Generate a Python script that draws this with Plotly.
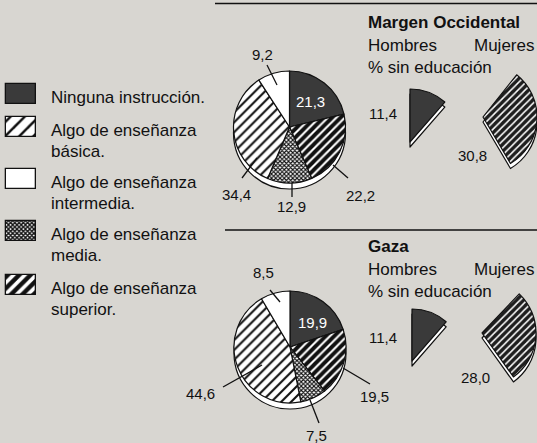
import plotly.graph_objects as go

# ---------------- data ----------------
categories = [
    "Ninguna instrucción.",
    "Algo de enseñanza<br>básica.",
    "Algo de enseñanza<br>intermedia.",
    "Algo de enseñanza<br>media.",
    "Algo de enseñanza<br>superior.",
]
regions = ["Margen Occidental", "Gaza"]
wb_values = [21.3, 34.4, 9.2, 12.9, 22.2]      # in legend order
gaza_values = [19.9, 44.6, 8.5, 7.5, 19.5]     # in legend order
slice_order = [0, 4, 3, 1, 2]                  # clockwise from 12 o'clock
sexes = ["Hombres", "Mujeres"]
wb_sin_educacion = [11.4, 30.8]
gaza_sin_educacion = [11.4, 28.0]
subtitle = "% sin educación"

# ---------------- style ----------------
W, H = 537, 443
BG = "#d8d6d1"
INK = "#111111"
DARK = "#3a3a3a"
FONT = "Liberation Sans, Arial, Helvetica, sans-serif"

cat_style = [
    dict(color=DARK, shape="", fg=DARK, size=8, sol=0.3),
    dict(color="white", shape="/", fg=INK, size=7, sol=0.3),
    dict(color="white", shape="", fg="white", size=8, sol=0.3),
    dict(color="white", shape="x", fg=INK, size=3, sol=0.6),
    dict(color="white", shape="/", fg=INK, size=6, sol=0.65),
]
legend_pattern_size = [8, 10, 8, 3, 8]
legend_pattern_sol = [0.3, 0.25, 0.3, 0.7, 0.55]


def fmt(v):
    return f"{v:.1f}".replace(".", ",")


def dom(cx, cy, r):
    return dict(x=[max(0, (cx - r) / W), min(1, (cx + r) / W)],
                y=[max(0, 1 - (cy + r) / H), min(1, 1 - (cy - r) / H)])


fig = go.Figure()

# ---- main pies (with extruded side) ----
main_pies = [
    dict(values=wb_values, cx=289.5, cy=127, r=56),
    dict(values=gaza_values, cx=290, cy=347, r=56),
]
for p in main_pies:
    fig.add_trace(go.Pie(values=[1], sort=False, textinfo="none", hoverinfo="skip",
                         showlegend=False, domain=dom(p["cx"], p["cy"] + 6, p["r"]),
                         marker=dict(colors=["white"], line=dict(color=INK, width=1.2))))
    order = slice_order
    fig.add_trace(go.Pie(
        labels=[categories[i] for i in order],
        values=[p["values"][i] for i in order],
        sort=False, direction="clockwise", rotation=0,
        textinfo="none", showlegend=False,
        domain=dom(p["cx"], p["cy"], p["r"]),
        marker=dict(
            colors=[cat_style[i]["color"] for i in order],
            line=dict(color=INK, width=1.2),
            pattern=dict(
                shape=[cat_style[i]["shape"] for i in order],
                fgcolor=[cat_style[i]["fg"] for i in order],
                bgcolor=[cat_style[i]["color"] for i in order],
                size=[cat_style[i]["size"] for i in order],
                solidity=[cat_style[i]["sol"] for i in order],
                fillmode="replace",
            ),
        ),
    ))

# ---- small wedges: % sin educación ----
CLEAR = "rgba(0,0,0,0)"
wedges = [
    dict(v=wb_sin_educacion[0], cx=410, cy=142, r=53, men=True),
    dict(v=wb_sin_educacion[1], cx=483, cy=117, r=54, men=False),
    dict(v=gaza_sin_educacion[0], cx=412, cy=361, r=52, men=True),
    dict(v=gaza_sin_educacion[1], cx=482, cy=333, r=54, men=False),
]
for w in wedges:
    rot = 0 if w["men"] else 94 - w["v"] * 3.6 / 2
    vals = [w["v"], 100 - w["v"]]
    fig.add_trace(go.Pie(values=vals, sort=False, direction="clockwise", rotation=rot,
                         textinfo="none", hoverinfo="skip", showlegend=False,
                         domain=dom(w["cx"], w["cy"] + 5, w["r"]),
                         marker=dict(colors=["white", CLEAR],
                                     line=dict(color=[INK, CLEAR], width=[1.2, 0]))))
    if w["men"]:
        pat = dict(shape=["", ""], fillmode="replace")
        fill = DARK
    else:
        pat = dict(shape=["/", ""], fgcolor=["white", CLEAR], bgcolor=["#1e1e1e", CLEAR],
                   size=[5, 5], solidity=[0.3, 0.3], fillmode="replace")
        fill = "#1e1e1e"
    fig.add_trace(go.Pie(values=vals, sort=False, direction="clockwise", rotation=rot,
                         textinfo="none", showlegend=False,
                         domain=dom(w["cx"], w["cy"], w["r"]),
                         marker=dict(colors=[fill, CLEAR],
                                     line=dict(color=[INK, CLEAR], width=[1.2, 0]),
                                     pattern=pat)))

# ---- legend swatches (one bar per category on a pixel-scaled hidden axis) ----
legend_y = [94, 127, 179, 231, 285]
for i, (cat, yc) in enumerate(zip(categories, legend_y)):
    s = cat_style[i]
    fig.add_trace(go.Bar(
        orientation="h", y=[yc], x=[30], base=6, width=20, name=cat,
        hoverinfo="skip", showlegend=False,
        marker=dict(
            color=s["color"],
            line=dict(color=INK, width=1.3),
            pattern=dict(shape=s["shape"], fgcolor=s["fg"], bgcolor=s["color"],
                         size=legend_pattern_size[i], solidity=legend_pattern_sol[i],
                         fillmode="replace"),
        ),
    ))

annotations = []
shapes = []


def ann(text, x, y, size=17, color=INK, xanchor="left"):
    annotations.append(dict(text=text, x=x, y=y, xref="x", yref="y", showarrow=False,
                            xanchor=xanchor, yanchor="middle",
                            font=dict(family=FONT, size=size, color=color)))


def line(x0, y0, x1, y1, width=1.3):
    shapes.append(dict(type="line", xref="x", yref="y", x0=x0, y0=y0, x1=x1, y1=y1,
                       line=dict(color=INK, width=width), layer="above"))


# legend labels
for cat, yc in zip(categories, legend_y):
    for k, part in enumerate(cat.split("<br>")):
        ann(part, 49, yc + 3 + k * 21)

# headers
header_y = [22, 246]
for reg, hy in zip(regions, header_y):
    ann(f"<b>{reg}</b>", 366, hy)
    ann(sexes[0], 366, hy + 23)
    ann(sexes[1], 472, hy + 23)
    ann(subtitle, 366, hy + 45)

# horizontal rules
line(215, 3.5, 537, 3.5, 1.6)
line(225, 230, 537, 230, 1.6)

# pie value labels: (text offset, leader from, leader to) relative to pie centre
label_pos = [
    # West Bank, legend order
    [((20.5, -26), None), ((-53.5, 67), ((-32.5, 31), (-47.5, 51))),
     ((-27.5, -73), ((-12.5, -42), (-22.5, -62))), ((1.5, 79), ((2.5, 56), (2.5, 70))),
     ((70.5, 68), ((43.5, 38), (58.5, 51)))],
    # Gaza
    [((22, -25), None), ((-90, 46), ((-28, 18), (-67, 40))),
     ((-27, -75), ((-10, -45), (-20, -57))), ((26, 88), ((20, 53), (29, 76))),
     ((84, 49), ((53, 21), (80, 37)))],
]
for p, vals, pos in zip(main_pies, [wb_values, gaza_values], label_pos):
    for i, v in enumerate(vals):
        (tx, ty), lead = pos[i]
        color = "white" if i == 0 else INK
        ann(fmt(v), p["cx"] + tx, p["cy"] + ty, size=15, color=color, xanchor="center")
        if lead:
            (a, b), (c, d) = lead
            line(p["cx"] + a, p["cy"] + b, p["cx"] + c, p["cy"] + d)

# wedge value labels
wedge_label = [(-27, -29), (-11, 38), (-29, -24), (-7, 44)]
for w, (dx, dy) in zip(wedges, wedge_label):
    ann(fmt(w["v"]), w["cx"] + dx, w["cy"] + dy, size=15, xanchor="center")

fig.update_layout(
    width=W, height=H,
    margin=dict(l=0, r=0, t=0, b=0),
    paper_bgcolor=BG, plot_bgcolor="rgba(0,0,0,0)",
    xaxis=dict(range=[0, W], visible=False, fixedrange=True, domain=[0, 1]),
    yaxis=dict(range=[H, 0], visible=False, fixedrange=True, domain=[0, 1]),
    annotations=annotations, shapes=shapes,
    showlegend=False, barmode="overlay", bargap=0,
)

fig.write_html(
    "out.html",
    config={"displayModeBar": False},
    post_script="document.body.style.margin='0';document.body.style.background='%s';" % BG,
)
